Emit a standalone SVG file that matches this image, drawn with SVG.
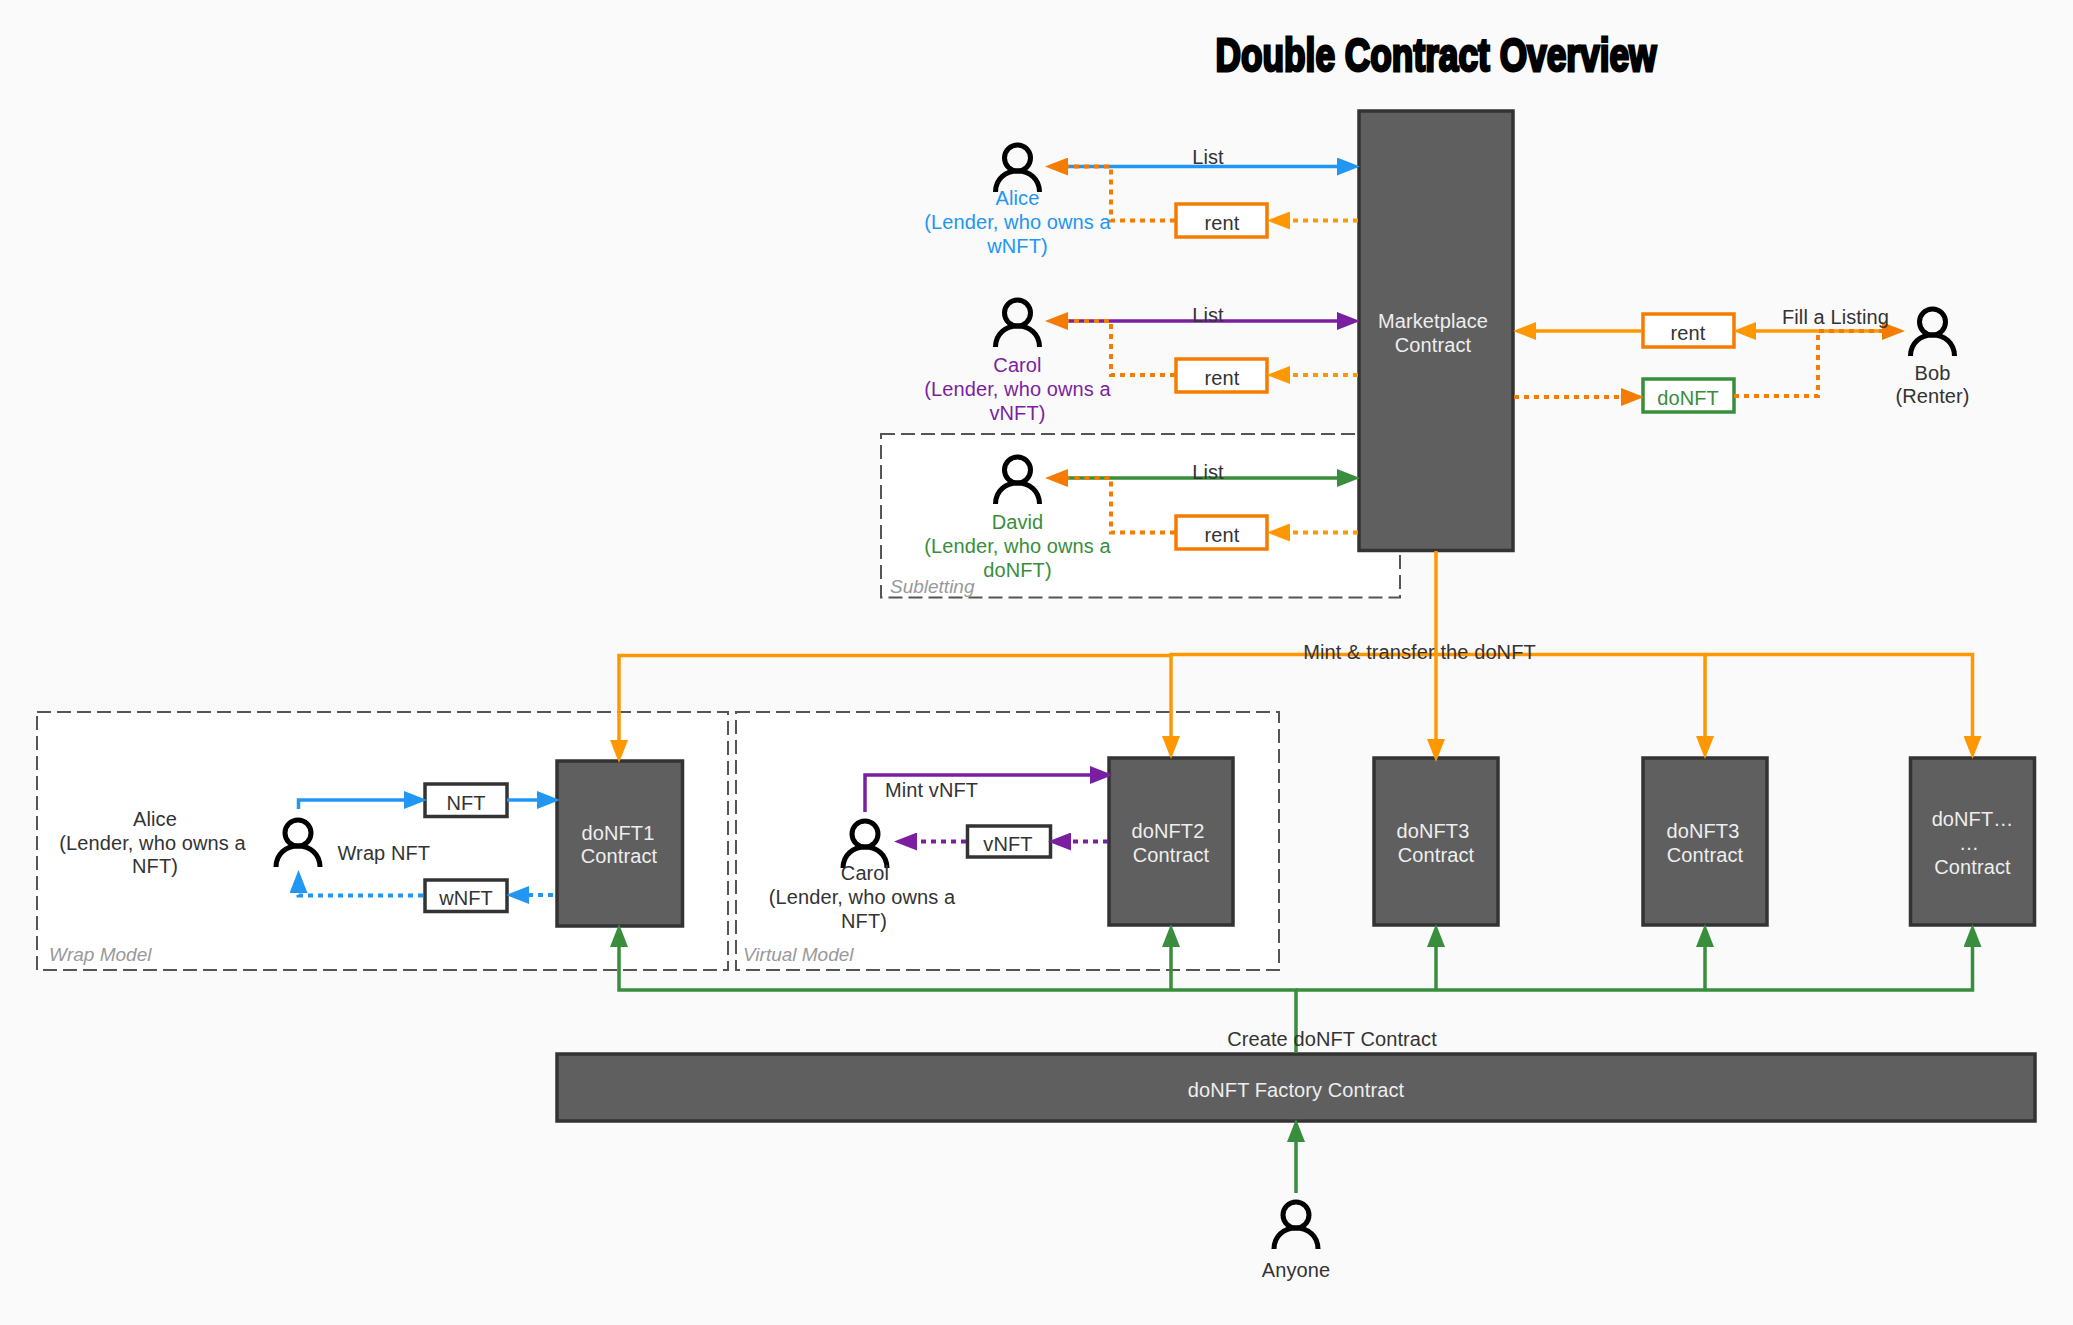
<svg xmlns="http://www.w3.org/2000/svg" width="2073" height="1325" viewBox="0 0 2073 1325">
<style>
text{font-family:"Liberation Sans",Arial,sans-serif;font-size:20px;letter-spacing:.1px;fill:#333;text-anchor:middle}
.lt{fill:#eee}
.cap{font-style:italic;font-size:19px;letter-spacing:0;fill:#999;text-anchor:start}
.st{text-anchor:start}
.ctr{fill:#5f5f5f;stroke:#333;stroke-width:3.500}
.zone{fill:#fff;stroke:#555;stroke-width:2;stroke-dasharray:14 6}
.box{fill:#fff;stroke-width:3.500}
.actor{fill:none;stroke:#000;stroke-width:5}
.c{fill:none;stroke-width:3.500}
.d{stroke-dasharray:5 5;stroke-width:4}
.blue{stroke:#2196f3}.purple{stroke:#7b1fa2}.green{stroke:#388e3c}.or{stroke:#ff9800}.dor{stroke:#f57c00}.dk{stroke:#333}
</style>
<defs>
<symbol id="person" overflow="visible"><circle cx="0" cy="15" r="13" class="actor"/><path class="actor" d="M-22 49C-22 36-12 28 0 28S22 36 22 49"/></symbol>
<marker id="mb" markerUnits="userSpaceOnUse" markerWidth="24" markerHeight="18" refX="0" refY="9" orient="auto-start-reverse"><path d="M0 0L23 9L0 18Z" fill="#2196f3"/></marker>
<marker id="mp" markerUnits="userSpaceOnUse" markerWidth="24" markerHeight="18" refX="0" refY="9" orient="auto-start-reverse"><path d="M0 0L23 9L0 18Z" fill="#7b1fa2"/></marker>
<marker id="mg" markerUnits="userSpaceOnUse" markerWidth="24" markerHeight="18" refX="0" refY="9" orient="auto-start-reverse"><path d="M0 0L23 9L0 18Z" fill="#388e3c"/></marker>
<marker id="mo" markerUnits="userSpaceOnUse" markerWidth="24" markerHeight="18" refX="0" refY="9" orient="auto-start-reverse"><path d="M0 0L23 9L0 18Z" fill="#ff9800"/></marker>
<marker id="md" markerUnits="userSpaceOnUse" markerWidth="24" markerHeight="18" refX="0" refY="9" orient="auto-start-reverse"><path d="M0 0L23 9L0 18Z" fill="#f57c00"/></marker>
</defs>
<rect width="2073" height="1325" fill="#fafafa"/>
<text x="1436" y="71" textLength="441" lengthAdjust="spacingAndGlyphs" style="font-size:46px;letter-spacing:0;font-weight:700;fill:#000;stroke:#000;stroke-width:2.800">Double Contract Overview</text>

<g id="zones">
<g id="subletting"><rect class="zone" x="881" y="434" width="519" height="163.500"/><text class="cap" x="890" y="593">Subletting</text></g>
<g id="wrap-model"><rect class="zone" x="37" y="712" width="691" height="258"/><text class="cap" x="49" y="961">Wrap Model</text></g>
<g id="virtual-model"><rect class="zone" x="736" y="712" width="543" height="258"/><text class="cap" x="743" y="961">Virtual Model</text></g>
</g>

<g id="nodes">
<g id="marketplace"><rect class="ctr" x="1359" y="111" width="154" height="439.500"/><text class="lt" x="1433" y="328">Marketplace</text><text class="lt" x="1433" y="352">Contract</text></g>
<g id="alice-list"><use href="#person" x="1017.500" y="143"/><text x="1017.500" y="205" style="fill:#2196f3">Alice</text><text x="1017.500" y="229" style="fill:#2196f3">(Lender, who owns a</text><text x="1017.500" y="253" style="fill:#2196f3">wNFT)</text></g>
<g id="carol-list"><use href="#person" x="1017.500" y="298"/><text x="1017.500" y="372" style="fill:#7b1fa2">Carol</text><text x="1017.500" y="396" style="fill:#7b1fa2">(Lender, who owns a</text><text x="1017.500" y="420" style="fill:#7b1fa2">vNFT)</text></g>
<g id="david-list"><use href="#person" x="1017.500" y="455"/><text x="1017.500" y="529" style="fill:#388e3c">David</text><text x="1017.500" y="553" style="fill:#388e3c">(Lender, who owns a</text><text x="1017.500" y="577" style="fill:#388e3c">doNFT)</text></g>
<g id="rent1"><rect class="box dor" x="1176" y="204" width="91" height="33"/><text x="1222" y="230">rent</text></g>
<g id="rent2"><rect class="box dor" x="1176" y="359" width="91" height="33"/><text x="1222" y="385">rent</text></g>
<g id="rent3"><rect class="box dor" x="1176" y="516" width="91" height="33"/><text x="1222" y="542">rent</text></g>
<g id="rent-bob"><rect class="box dor" x="1643" y="314" width="91" height="33"/><text x="1688" y="340">rent</text></g>
<g id="donft-bob"><rect class="box green" x="1643" y="379" width="91" height="33"/><text x="1688" y="405" style="fill:#388e3c">doNFT</text></g>
<g id="bob"><use href="#person" x="1932.500" y="307"/><text x="1932.500" y="380">Bob</text><text x="1932.500" y="403">(Renter)</text></g>
<g id="alice-wrap"><use href="#person" x="298" y="818"/><text x="155" y="826">Alice</text><text x="152.500" y="850">(Lender, who owns a</text><text x="155" y="873">NFT)</text></g>
<g id="nft"><rect class="box dk" x="425" y="784" width="82" height="32.500"/><text x="466" y="810">NFT</text></g>
<g id="wnft"><rect class="box dk" x="425" y="880" width="82" height="31.500"/><text x="466" y="905">wNFT</text></g>
<g id="donft1"><rect class="ctr" x="557" y="761" width="125.500" height="165"/><text class="lt" x="618" y="840">doNFT1</text><text class="lt" x="619" y="863">Contract</text></g>
<g id="carol-virtual"><use href="#person" x="865" y="819"/><text x="865" y="880">Carol</text><text x="862" y="904">(Lender, who owns a</text><text x="864" y="928">NFT)</text></g>
<g id="vnft"><rect class="box dk" x="967.500" y="826" width="83" height="31"/><text x="1008" y="851">vNFT</text></g>
<g id="donft2"><rect class="ctr" x="1109" y="758" width="124" height="167"/><text class="lt" x="1168" y="838">doNFT2</text><text class="lt" x="1171" y="862">Contract</text></g>
<g id="donft3a"><rect class="ctr" x="1374" y="758" width="124" height="167"/><text class="lt" x="1433" y="838">doNFT3</text><text class="lt" x="1436" y="862">Contract</text></g>
<g id="donft3b"><rect class="ctr" x="1643" y="758" width="124" height="167"/><text class="lt" x="1703" y="838">doNFT3</text><text class="lt" x="1705" y="862">Contract</text></g>
<g id="donftn"><rect class="ctr" x="1910.500" y="758" width="124" height="167"/><text class="lt" x="1972.500" y="826">doNFT…</text><text class="lt" x="1969" y="850">…</text><text class="lt" x="1972.500" y="874">Contract</text></g>
<g id="factory"><rect class="ctr" x="557" y="1054" width="1478" height="67"/><text class="lt" x="1296" y="1097">doNFT Factory Contract</text></g>
<g id="anyone"><use href="#person" x="1296" y="1200"/><text x="1296" y="1277">Anyone</text></g>
</g>

<g id="connectors">
<path class="c blue" d="M1068 166.500H1337" marker-end="url(#mb)"/>
<path class="c purple" d="M1068 321H1337" marker-end="url(#mp)"/>
<path class="c green" d="M1068 478H1337" marker-end="url(#mg)"/>
<path class="c d dor" d="M1175 220.500H1111V166.500H1068" marker-end="url(#md)"/>
<path class="c d dor" d="M1175 375H1111V321H1068" marker-end="url(#md)"/>
<path class="c d dor" d="M1175 532.500H1111V478H1068" marker-end="url(#md)"/>
<path class="c d or" d="M1358 220.500H1290" marker-end="url(#mo)"/>
<path class="c d or" d="M1358 375H1290" marker-end="url(#mo)"/>
<path class="c d or" d="M1358 532.500H1290" marker-end="url(#mo)"/>
<path class="c or" d="M1642 331H1536" marker-end="url(#mo)"/>
<path class="c or" d="M1882 331H1756" marker-end="url(#mo)"/>
<path class="c d dor" d="M1734 396H1818V331H1882" marker-end="url(#md)"/>
<path class="c d dor" d="M1514 397H1621" marker-end="url(#md)"/>
<path class="c or" d="M1436 551V739" marker-end="url(#mo)"/>
<path class="c or" d="M1171 655.500H619V740" marker-end="url(#mo)"/>
<path class="c or" d="M1171 654.500V736" marker-end="url(#mo)"/>
<path class="c or" d="M1169.500 654.500H1705V736" marker-end="url(#mo)"/>
<path class="c or" d="M1705 654.500H1972.500V736" marker-end="url(#mo)"/>
<path class="c green" d="M1296 1053V990H619V947" marker-end="url(#mg)"/>
<path class="c green" d="M1296 990H1972.500V947" marker-end="url(#mg)"/>
<path class="c green" d="M1171 990V947" marker-end="url(#mg)"/>
<path class="c green" d="M1436 990V947" marker-end="url(#mg)"/>
<path class="c green" d="M1705 990V947" marker-end="url(#mg)"/>
<path class="c green" d="M1296 1193V1142" marker-end="url(#mg)"/>
<path class="c blue" d="M298.500 809V800H404" marker-end="url(#mb)"/>
<path class="c blue" d="M507 800H537" marker-end="url(#mb)"/>
<path class="c d blue" d="M553 895H529" marker-end="url(#mb)"/>
<path class="c d blue" d="M423 895.500H298.500V893" marker-end="url(#mb)"/>
<path class="c purple" d="M865 812V775H1090" marker-end="url(#mp)"/>
<path class="c d purple" d="M1108 841.500H1071" marker-end="url(#mp)"/>
<path class="c d purple" d="M966 841.500H917" marker-end="url(#mp)"/>
<text x="1208" y="164">List</text>
<text x="1208" y="322">List</text>
<text x="1208" y="479">List</text>
<text x="1835.500" y="324">Fill a Listing</text>
<text x="1419.500" y="659">Mint &amp; transfer the doNFT</text>
<text x="1332" y="1046">Create doNFT Contract</text>
<text class="st" x="337.500" y="860">Wrap NFT</text>
<text class="st" x="885" y="797">Mint vNFT</text>
</g>
</svg>
